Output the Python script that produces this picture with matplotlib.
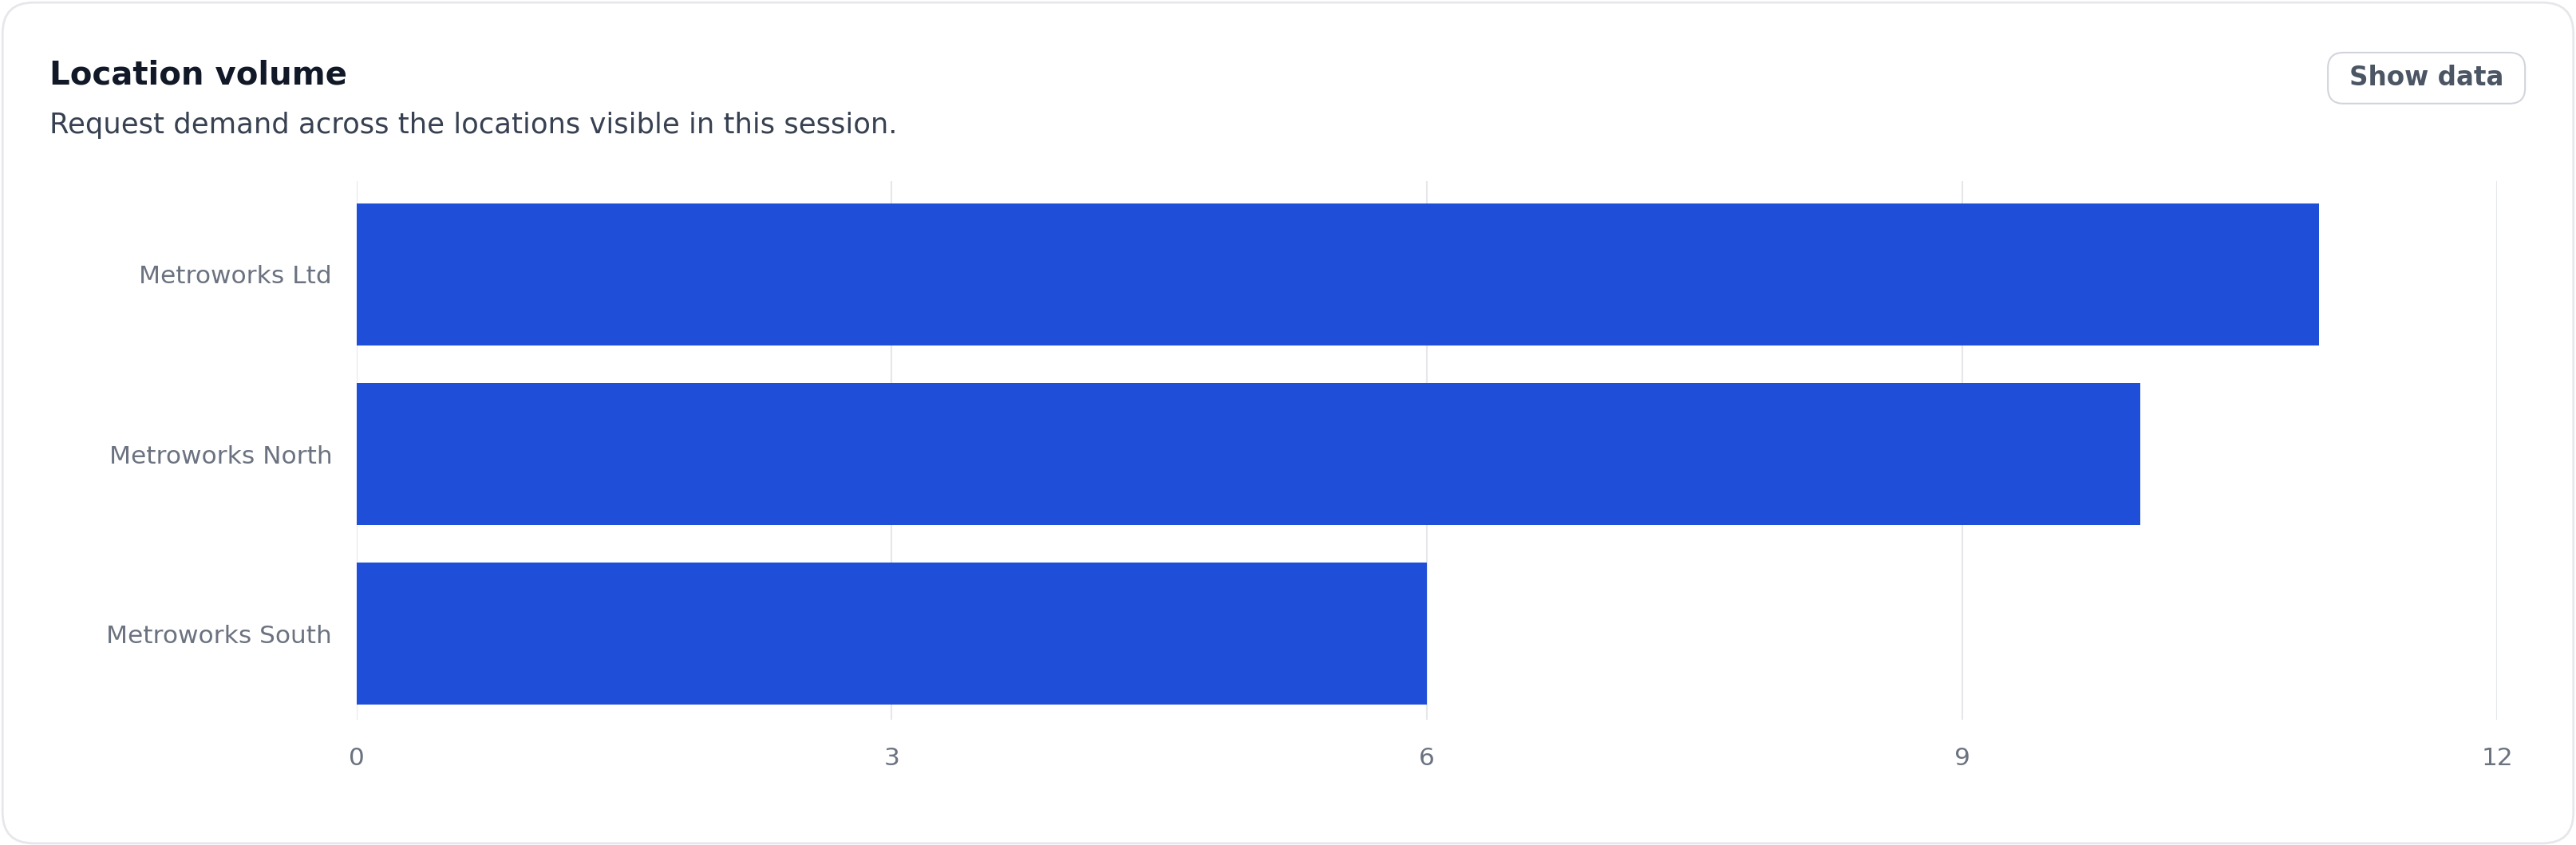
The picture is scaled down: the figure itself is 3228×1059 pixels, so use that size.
import matplotlib
matplotlib.use("Agg")
import matplotlib.pyplot as plt
from matplotlib.patches import FancyBboxPatch

categories = ["Metroworks Ltd", "Metroworks North", "Metroworks South"]
values = [11, 10, 6]
xticks = [0, 3, 6, 9, 12]

fig = plt.figure(figsize=(32.28, 10.59), dpi=100)
fig.patches.append(FancyBboxPatch((0.001, 0.002), 0.998, 0.995, boxstyle="round,pad=0,rounding_size=0.012",
                                  transform=fig.transFigure, facecolor="white", edgecolor="#e5e7eb", lw=2,
                                  mutation_aspect=3228/1059, zorder=-10))
fig.text(30/1568, 1-46/514, "Location volume", fontsize=29, fontweight="bold", color="#111827", va="center")
fig.text(30/1568, 1-76/514, "Request demand across the locations visible in this session.", fontsize=25.5,
         color="#374151", va="center")
fig.patches.append(FancyBboxPatch((1417/1568, 1-63/514), 120/1568, 31/514, boxstyle="round,pad=0,rounding_size=0.006",
                                  transform=fig.transFigure, facecolor="white", edgecolor="#d1d5db", lw=1.5,
                                  mutation_aspect=3228/1059, zorder=-5))
fig.text(1477/1568, 1-47.5/514, "Show data", fontsize=23.5, fontweight="bold", color="#4b5563", ha="center", va="center")

ax = fig.add_axes([217/1568, 1-438/514, (1520-217)/1568, (438-110)/514])
ax.patch.set_alpha(0)
y = list(range(len(categories)))
ax.barh(y, values, height=0.79, color="#1f4fd8", zorder=3)
ax.set_ylim(2.48, -0.52)
ax.set_xlim(0, 12)
ax.set_xticks(xticks)
ax.set_xticklabels([str(t) for t in xticks])
ax.set_yticks(y)
ax.set_yticklabels(categories)
ax.grid(axis="x", color="#e5e7eb", lw=1.5, zorder=0)
for s in ax.spines.values():
    s.set_visible(False)
ax.tick_params(length=0, labelsize=22.5, labelcolor="#6b7280")
ax.tick_params(axis="y", pad=22)
ax.tick_params(axis="x", pad=24)
fig.savefig("out.png", dpi=100)
